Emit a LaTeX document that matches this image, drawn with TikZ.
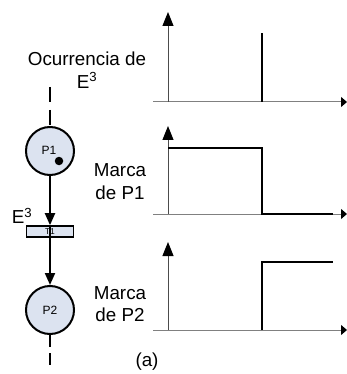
\documentclass[tikz,border=0pt]{standalone}
\usepackage{fontspec}
\setmainfont{Liberation Sans}
\usetikzlibrary{arrows.meta}
\definecolor{placefill}{HTML}{DCE3F0}
\tikzset{
  lbl/.style={font=\fontsize{18.8}{22.5}\selectfont, align=center, inner sep=0},
  place/.style={circle, draw, line width=2, fill=placefill, minimum size=48, inner sep=0, font=\fontsize{12}{12}\selectfont},
  trans/.style={rectangle, draw, line width=1.6, fill=placefill, minimum width=47, minimum height=11, inner sep=0, font=\fontsize{8.5}{8.5}\selectfont},
  arc/.style={line width=2, -{Triangle[length=12,width=10]}},
  yaxis/.style={black!70, line width=1, -{Triangle[length=14,width=11,color=black,fill=black]}},
  xaxis/.style={black!50, line width=1, -{Triangle[length=6,width=10,color=black,fill=black]}},
  signal/.style={line width=2.4, black},
  token/.style={circle, fill=black, minimum size=8.5, inner sep=0},
}
\begin{document}
\begin{tikzpicture}[x=1pt,y=-1pt]
\useasboundingbox (0,0) rectangle (347,374);
% Petri net
\node[place] (p1) at (50,151) {\raisebox{1pt}{\hspace*{-2pt}P1}};
\node[token] (tok) at (59,161) {};
\node[trans] (t1) at (50,231.5) {T1};
\node[place] (p2) at (50,310) {P2};
\coordinate (dtop) at (50,87);
\coordinate (dbot) at (50,365);
\draw[line width=2, dash pattern=on 15 off 8] (dtop) -- (p1.north);
\draw[line width=2, dash pattern=on 12 off 6] (p2.south) -- (dbot);
\draw[arc] (p1.south) -- (t1.north);
\draw[arc] (t1.north) -- (p2.north);
\node[lbl] (e3) at (22,216) {E\textsuperscript{3}};
% labels
\node[lbl] (occ) at (87,70) {Ocurrencia de\\E\textsuperscript{3}};
\node[lbl] (m1) at (120,181.5) {Marca\\de P1};
\node[lbl] (m2) at (120,304) {Marca\\de P2};
\node[lbl] (a) at (147,362) {(a)};
% graph 1
\coordinate (o1) at (168,102);
\coordinate (y1) at (168,12);
\coordinate (xs1) at (153,102);
\coordinate (xe1) at (347,102);
\draw[xaxis] (xs1) -- (xe1);
\draw[yaxis] (o1) -- (y1);
\coordinate (s1a) at (262,102);
\coordinate (s1b) at (262,33);
\draw[signal] (s1a) -- (s1b);
% graph 2
\coordinate (o2) at (168,214);
\coordinate (y2) at (168,126);
\coordinate (xs2) at (153,214);
\coordinate (xe2) at (347,214);
\draw[xaxis] (xs2) -- (xe2);
\draw[yaxis] (o2) -- (y2);
\coordinate (s2a) at (168,148);
\coordinate (s2b) at (262,148);
\coordinate (s2c) at (262,214);
\coordinate (s2d) at (333,214);
\draw[signal] (s2a) -- (s2b) -- (s2c) -- (s2d);
% graph 3
\coordinate (o3) at (168,330);
\coordinate (y3) at (168,242);
\coordinate (xs3) at (153,330);
\coordinate (xe3) at (347,330);
\draw[xaxis] (xs3) -- (xe3);
\draw[yaxis] (o3) -- (y3);
\coordinate (s3a) at (262,330);
\coordinate (s3b) at (262,262);
\coordinate (s3c) at (333,262);
\draw[signal] (s3a) -- (s3b) -- (s3c);
\end{tikzpicture}
\end{document}
